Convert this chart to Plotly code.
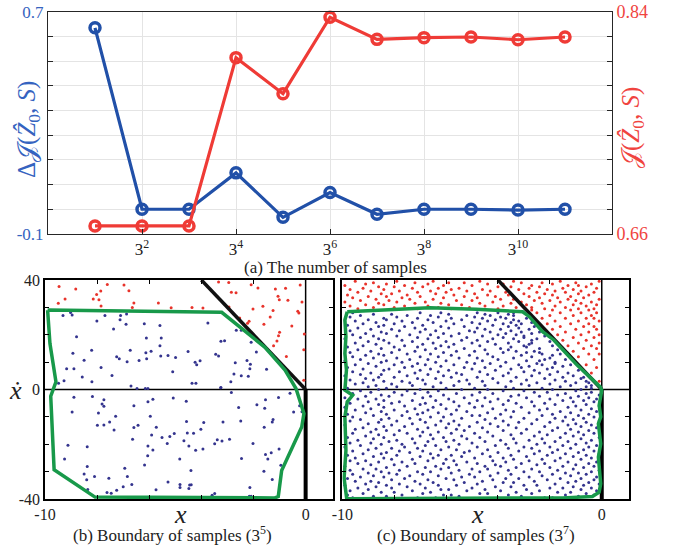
import plotly.graph_objects as go

# ---------------- Panel (a) data ----------------
samples = [3, 9, 27, 81, 243, 729, 2187, 6561, 19683, 59049, 177147]
delta_J = [0.642, -0.011, -0.011, 0.120, -0.040, 0.049, -0.029, -0.011, -0.011, -0.014, -0.011]
J_val = [0.6665, 0.6665, 0.6665, 0.8028, 0.7736, 0.8355, 0.8176, 0.8190, 0.8195, 0.8173, 0.8195]
a_tick_vals = [9, 81, 729, 6561, 59049]
a_tick_text = ["3<sup>2</sup>", "3<sup>4</sup>", "3<sup>6</sup>", "3<sup>8</sup>", "3<sup>10</sup>"]
left_ticks = [-0.1, -0.0111, 0.0778, 0.1667, 0.2556, 0.3444, 0.4333, 0.5222, 0.6111, 0.7]
left_tick_text = ["-0.1", "", "", "", "", "", "", "", "", "0.7"]
right_ticks = [0.66, 0.68, 0.70, 0.72, 0.74, 0.76, 0.78, 0.80, 0.82, 0.84]
right_tick_text = ["0.66", "", "", "", "", "", "", "", "", "0.84"]

# ---------------- Panel (b) data (3^5 samples) ----------------
b_red_x = [-9.46, -8.82, -7.61, -6.97, -7.86, -6.78, -8.02, -8.15, -7.93, -9.23, -9.49, -7.85, -6.59, -5.65, -6.65, -5.16,
           -3.34, -2.95, -2.09, -1.83, -1.16, -0.77, -0.21, -2.85, -2.67, -4.36, -3.94, -1.06, -1.01, -0.68, -0.14, -2.94,
           -2.02, -1.64, -1.25, -0.30, -0.26, -1.36, -2.53, -2.17, -2.23, -1.60, -0.53, -1.00, -1.04, -0.05, -1.10, -1.23,
           -0.07, -0.74, -0.07]
b_red_y = [37.6, 36.7, 38.4, 38.2, 36.0, 36.1, 34.7, 33.1, 32.8, 33.1, 31.5, 30.5, 31.6, 31.6, 30.0, 29.9,
           39.3, 39.1, 38.3, 37.1, 36.7, 37.0, 38.2, 35.5, 35.3, 30.0, 29.8, 34.1, 32.8, 32.6, 32.0, 30.1,
           29.4, 30.4, 28.9, 28.6, 27.9, 26.5, 26.1, 24.9, 24.2, 23.8, 23.2, 20.9, 19.6, 20.3, 17.7, 16.0,
           14.5, 12.1, 3.4]
b_blue_x = [-9.02, -9.31, -8.96, -6.87, -7.10, -7.70, -7.12, -8.01, -6.19, -5.59, -6.89, -7.37, -8.79, -6.11, -5.54,
            -5.59, -8.21, -6.73, -5.93, -6.13, -8.93, -7.25, -7.15, -5.56, -5.28, -4.99, -4.51, -8.50, -6.85, -6.39,
            -6.10, -7.85, -9.17, -8.89, -5.10, -8.57, -7.43, -9.27, -9.48, -8.20, -6.70, -6.47, -6.15, -6.05,
            -3.75, -2.66, -2.47, -3.11, -3.25, -2.09, -1.89, -3.45, -3.34, -4.05, -4.24, -4.18, -2.25, -2.70, -2.12,
            -2.14, -1.50, -2.75, -2.47, -2.20, -4.36, -4.21, -2.87, -3.25,
            -8.89, -8.18, -7.74, -7.81, -7.74, -6.59, -6.05, -5.86, -5.08, -4.58, -8.96, -7.95, -7.29, -7.52, -7.74,
            -7.99, -7.35, -6.59, -6.43, -5.96, -5.73, -4.57, -6.64, -5.91, -5.51, -5.21, -5.04, -4.54, -4.67, -5.31,
            -9.12, -8.38, -6.05, -5.86, -6.06, -9.25, -4.83, -8.38, -6.94, -6.18, -8.50, -8.10, -8.40, -7.55, -6.84,
            -6.67, -5.28, -4.82, -4.82, -4.45, -7.00, -7.25, -8.36, -7.62, -7.46, -5.74,
            -3.26, -2.85, -1.54, -1.04, -1.87, -2.57, -1.57, -0.46, -0.14, -3.91, -3.17, -2.49, -1.25, -1.28, -1.59,
            -4.02, -4.30, -2.92, -3.39, -3.21, -3.49, -4.48, -3.94, -4.22, -2.02, -1.02, -1.32, -1.54, -1.45, -2.46,
            -0.95, -4.40, -1.60, -1.28, -4.39, -4.48, -2.14, -3.59, -3.49, -2.16, -2.09, -0.60, -0.23]
b_blue_y = [28.1, 27.0, 27.2, 27.6, 27.0, 27.0, 25.5, 25.0, 24.0, 23.4, 23.8, 22.1, 19.3, 18.8, 18.8,
            16.0, 14.3, 14.3, 14.0, 13.4, 13.2, 12.0, 11.2, 12.2, 12.4, 11.7, 13.9, 10.7, 10.1, 10.6,
            11.2, 8.0, 7.6, 7.6, 6.5, 4.6, 5.1, 3.2, 2.3, 2.8, 1.3, 0.4, 0.4, 0.4,
            24.3, 21.6, 21.6, 17.8, 17.6, 17.3, 13.7, 12.9, 12.2, 10.5, 10.0, 9.0, 10.6, 9.8, 9.2,
            7.6, 7.4, 5.7, 5.0, 4.8, 2.3, 2.3, 2.8, 0.7,
            -2.8, -2.6, -3.7, -5.3, -6.1, -5.9, -4.5, -3.6, -3.1, -4.3, -8.2, -8.6, -9.8, -11.9, -13.0,
            -13.1, -14.8, -13.9, -13.1, -9.8, -13.8, -11.7, -18.2, -16.6, -17.5, -17.2, -16.1, -15.9, -18.7, -19.7,
            -20.4, -20.9, -20.6, -22.1, -24.2, -25.4, -25.4, -28.1, -28.8, -27.6, -30.9, -31.8, -33.0, -32.4, -31.8,
            -34.7, -33.8, -34.7, -35.8, -34.9, -35.5, -36.8, -36.5, -37.6, -37.9, -36.6,
            0.6, -1.1, -3.7, -2.9, -5.6, -6.6, -6.85, -8.2, -8.1, -12.1, -11.9, -11.5, -11.0, -11.9, -13.8,
            -14.5, -16.0, -18.2, -18.4, -18.8, -19.8, -20.6, -21.7, -22.2, -19.7, -21.7, -23.1, -23.7, -25.4, -25.2,
            -27.7, -29.6, -29.9, -32.9, -34.8, -36.2, -35.8, -38.6, -38.0, -39.0, -39.0, -1.4, -5.9]
b_bound_x = [-9.90, -3.22, -1.56, -0.79, -0.37, -0.15, -0.065, -0.15, -0.92, -1.05, -1.18, -8.08, -9.65, -9.78,
             -9.68, -9.58, -9.81, -9.90]
b_bound_y = [29.0, 28.2, 15.4, 7.07, 0.37, -5.75, -8.8, -13.7, -29.6, -39.1, -39.6, -39.3, -29.3, -2.45,
             0.0, 2.8, 16.8, 29.0]

# ---------------- Panel (c) data (3^7 samples; x in tenths, grouped by y row) ----------------
c_blue_row_y = [-39.5, -39, -38.5, -38, -37.5, -37, -36.5, -36, -35.5, -35, -34.5, -34, -33.5, -33, -32.5, -32,
                -31.5, -31, -30.5, -30, -29.5, -29, -28.5, -28, -27.5, -27, -26.5, -26, -25.5, -25, -24.5, -24,
                -23.5, -23, -22.5, -22, -21.5, -21, -20.5, -20, -19.5, -19, -18.5, -18, -17.5, -17, -16.5, -16,
                -15.5, -15, -14.5, -14, -13.5, -13, -12.5, -12, -11.5, -11, -10.5, -10, -9.5, -9, -8.5, -8,
                -7.5, -7, -6.5, -6, -5.5, -5, -4.5, -4, -3.5, -3, -2.5, -2, -1.5, -1, -0.5, 0,
                0.5, 1, 1.5, 2, 2.5, 3, 3.5, 4, 4.5, 5, 5.5, 6, 6.5, 7, 7.5, 8, 8.5, 9, 9.5, 10,
                10.5, 11, 11.5, 12, 12.5, 13, 13.5, 14, 14.5, 15, 15.5, 16, 16.5, 17, 17.5, 18, 18.5, 19, 19.5, 20,
                20.5, 21, 21.5, 22, 22.5, 23, 23.5, 24, 24.5, 25, 25.5, 26, 26.5, 27, 27.5, 28]
c_blue_row_x = [
    [-96, -71, -64, -40, -22, -19], [-88, -83, -55, -31, -9], [-98, -77, -61, -58, -36, -14, -3],
    [-92, -69, -47, -44, -27, -6], [-85, -80, -66, -33, -17, -12], [-97, -73, -52, -39, -24, -2],
    [-90, -62, -59, -45, -29, -8], [-94, -81, -68, -50, -20, -15, -4], [-87, -75, -41, -35, -11],
    [-99, -83, -63, -56, -30, -25, -7], [-91, -78, -70, -48, -18, -1], [-86, -65, -53, -38, -34, -13, -5],
    [-95, -89, -72, -46, -26, -10], [-81, -67, -57, -42, -21, -3], [-98, -76, -60, -37, -32, -16, -8],
    [-93, -84, -54, -49, -28, -2], [-88, -74, -63, -43, -23, -12], [-96, -79, -69, -51, -35, -19, -6],
    [-90, -82, -58, -40, -14, -9], [-85, -71, -66, -47, -30, -24, -4], [-97, -78, -55, -36, -17, -1],
    [-92, -87, -62, -50, -44, -27, -11], [-83, -68, -59, -33, -20, -7], [-99, -75, -64, -45, -39, -15, -3],
    [-89, -80, -56, -41, -25, -10], [-94, -72, -61, -48, -31, -22, -5], [-86, -77, -52, -37, -13, -2],
    [-97, -91, -67, -57, -42, -28, -18], [-81, -73, -60, -34, -23, -8], [-95, -84, -65, -49, -38, -16, -4],
    [-88, -70, -54, -43, -29, -11], [-98, -79, -63, -58, -35, -21, -6], [-92, -85, -66, -46, -26, -14, -1],
    [-83, -74, -53, -40, -19, -9], [-96, -78, -69, -51, -32, -24, -3], [-90, -62, -56, -44, -17, -7],
    [-87, -81, -71, -36, -27, -12], [-99, -76, -59, -48, -30, -20, -5], [-93, -68, -64, -41, -15, -2],
    [-85, -77, -55, -37, -25, -10], [-97, -89, -72, -50, -33, -22, -6], [-82, -67, -60, -45, -18, -13],
    [-94, -79, -57, -39, -28, -4], [-88, -73, -65, -52, -34, -23, -8], [-98, -84, -61, -47, -16, -1],
    [-91, -70, -54, -42, -26, -11], [-86, -80, -66, -35, -21, -7], [-96, -75, -58, -49, -31, -14, -3],
    [-89, -69, -63, -44, -24, -9], [-83, -78, -53, -38, -19, -5], [-95, -87, -71, -56, -29, -12],
    [-92, -67, -60, -46, -33, -17, -2], [-84, -76, -51, -40, -22, -8], [-99, -81, -64, -55, -36, -13, -4],
    [-90, -73, -59, -43, -27, -10], [-86, -68, -48, -32, -20, -6], [-97, -79, -62, -57, -38, -15, -1],
    [-93, -85, -70, -45, -25, -11], [-82, -74, -54, -41, -30, -18, -7], [-96, -66, -61, -35, -14, -3],
    [-88, -77, -50, -47, -23, -9], [-98, -83, -71, -58, -39, -19, -5], [-91, -69, -63, -44, -28, -12],
    [-85, -75, -52, -34, -16, -2], [-95, -80, -67, -56, -37, -24, -8], [-89, -72, -60, -42, -21, -4],
    [-99, -84, -65, -49, -31, -13], [-92, -76, -55, -46, -26, -10, -1], [-86, -70, -62, -38, -18, -6],
    [-97, -81, -68, -51, -33, -22], [-90, -78, -57, -43, -27, -11, -3], [-84, -73, -64, -48, -36, -15, -7],
    [-94, -87, -59, -40, -20, -2], [-99, -69, -53, -45, -29, -12, -5], [-91, -82, -66, -35, -24, -9],
    [-85, -77, -61, -50, -32, -17, -1], [-96, -72, -56, -42, -14, -6], [-89, -80, -67, -47, -26, -21, -4],
    [-93, -75, -63, -38, -30, -10], [-86, -70, -54, -44, -19, -8],
    [-98, -83, -60, -49, -34, -23, -4], [-90, -79, -65, -37, -16, -6], [-87, -73, -57, -45, -28, -12, -4],
    [-95, -81, -68, -51, -31, -20], [-92, -74, -62, -40, -25, -10, -5], [-84, -77, -55, -46, -35, -14, -6],
    [-97, -88, -69, -52, -29, -18], [-91, -71, -64, -42, -22, -8], [-86, -80, -58, -48, -33, -15, -7],
    [-99, -75, -61, -38, -27, -11], [-93, -85, -67, -54, -44, -20], [-89, -72, -56, -36, -24, -13],
    [-96, -78, -63, -47, -30, -17], [-84, -70, -59, -41, -26, -9], [-92, -82, -66, -50, -35, -21],
    [-98, -76, -53, -45, -31, -19], [-87, -73, -62, -39, -28, -15], [-95, -80, -68, -57, -32, -23, -12],
    [-90, -71, -49, -43, -25, -18], [-85, -77, -64, -52, -37, -18],
    [-99, -83, -60, -46, -29, -24], [-93, -74, -67, -40, -22, -14], [-88, -79, -55, -48, -34, -20],
    [-96, -70, -63, -42, -27], [-91, -84, -58, -51, -31, -19], [-86, -75, -66, -44, -23, -16],
    [-97, -81, -61, -38, -29, -24], [-89, -72, -56, -49, -33, -26], [-94, -78, -68, -45, -36, -17],
    [-85, -64, -53, -39, -24], [-98, -80, -71, -59, -35, -29], [-92, -76, -62, -47, -30, -19],
    [-87, -69, -57, -41, -28], [-95, -82, -65, -50, -36, -27], [-90, -73, -60, -44, -32, -20],
    [-84, -77, -54, -48, -27], [-99, -86, -67, -42, -34, -25], [-93, -71, -63, -52, -38, -30],
    [-88, -79, -58, -46, -30, -22], [-96, -74, -66, -40, -33],
    [-91, -83, -61, -55, -37, -27], [-85, -70, -49, -43, -31, -24], [-97, -78, -64, -51, -35],
    [-89, -81, -68, -45, -39, -28], [-94, -72, -59, -48, -32], [-86, -76, -62, -53, -36, -26],
    [-98, -84, -69, -42, -33], [-92, -80, -57, -47, -38, -31], [-87, -73, -65, -50, -35, -27],
    [-95, -77, -60, -44, -32], [-90, -83, -67, -54, -41, -34], [-84, -71, -58, -46, -37, -29],
    [-97, -79, -63, -49, -39], [-93, -75, -66, -52, -43, -34], [-88, -81, -59, -45, -36],
    [-96, -70, -62, -48, -40, -34]]
c_red_row_y = [3, 6, 8, 9, 11, 12, 13, 14, 15, 16, 17, 18, 19, 20, 21, 22, 23, 24, 25, 26, 27, 28, 29,
               29.5, 30, 30.5, 31, 31.5, 32, 32.5, 33, 33.5, 34, 34.5, 35, 35.5, 36, 36.5, 37, 37.5, 38, 38.5,
               39, 39.5]
c_red_row_x = [
    [-1], [-4], [-2], [-6], [-3], [-9], [-5, -1], [-11], [-7, -2], [-13, -4], [-9, -1], [-15, -6],
    [-11, -3], [-17, -8, -1], [-14, -5], [-19, -10, -2], [-16, -7, -3], [-21, -12, -5], [-18, -9, -1],
    [-23, -14, -6, -3], [-20, -11, -4], [-25, -16, -8, -2], [-27, -19, -12, -5],
    [-94, -71, -58, -40, -22, -9, -3], [-88, -80, -63, -51, -33, -27, -14], [-97, -76, -67, -45, -38, -18, -6],
    [-91, -84, -59, -54, -29, -11, -2], [-86, -72, -62, -47, -35, -23, -8], [-99, -79, -68, -42, -31, -16, -4],
    [-93, -82, -56, -50, -26, -20, -10], [-87, -74, -65, -39, -34, -13, -1], [-96, -77, -61, -48, -24, -17, -7],
    [-90, -83, -70, -53, -41, -28, -12], [-98, -75, -57, -44, -36, -19, -5], [-85, -81, -64, -49, -30, -22, -9],
    [-94, -71, -60, -37, -25, -14, -3], [-89, -78, -66, -52, -43, -18, -8], [-97, -84, -58, -46, -32, -21, -11],
    [-92, -73, -63, -55, -28, -15, -2], [-86, -80, -69, -40, -35, -24, -6], [-99, -76, -61, -50, -27, -13, -9],
    [-91, -83, -67, -44, -38, -19, -4], [-88, -72, -59, -53, -31, -23, -10], [-95, -79, -65, -47, -34, -16, -1]]
c_bound_x = [-9.81, -6.63, -4.84, -3.05, -2.79, -2.28, -1.85, -0.95, -0.06, 0.0, -0.10, -0.04, -0.13, -0.04, -0.13,
             -0.04, -0.10, -0.36, -1.51, -9.83, -9.93, -9.86, -9.90, -9.81, -9.60, -9.90, -9.84, -9.90, -9.86,
             -9.90, -9.81]
c_bound_y = [28.4, 29.9, 29.3, 28.4, 26.6, 21.1, 18.1, 8.9, 0.95, -0.25, -5.75, -10.0, -12.5, -19.8, -24.7,
             -34.4, -37.5, -39.1, -39.6, -39.9, -32.4, -22.2, -10.0, -4.5, -2.1, -0.25, 7.1, 13.2, 19.3,
             25.4, 28.4]

# limit line (x_dot = -10 x)
limit_x = [-4, 0]
limit_y = [40, 0]

# ticks for bottom panels
bx_ticks = [-10, -8, -6, -4, -2, 0]
bx_text = ["-10", "", "", "", "", "0"]
by_ticks = [-40, -30, -20, -10, 0, 10, 20, 30, 40]
by_text = ["-40", "", "", "", "0", "", "", "", "40"]
by_text_blank = [""] * 9


def flatten(rows_y, rows_x):
    xs, ys = [], []
    for yv, row in zip(rows_y, rows_x):
        for xv in row:
            xs.append(xv / 10.0)
            ys.append(yv)
    return xs, ys


c_blue_x, c_blue_y = flatten(c_blue_row_y, c_blue_row_x)
c_red_x, c_red_y = flatten(c_red_row_y, c_red_row_x)

FONT = "Liberation Serif, Times New Roman, serif"
BLUE = "#2150a8"
BLUE_TXT = "#3563c0"
RED = "#ef3b36"
RED_TXT = "#f0443f"
GREEN = "#18994a"
DOT_BLUE = "#34348e"
DOT_RED = "#e8332b"
AX = "#262626"

W, H = 673, 548


def px(x):
    return x / W


def py(y):
    return 1 - y / H


fig = go.Figure()

# ---- Panel (a)
fig.add_trace(go.Scatter(
    x=samples, y=delta_J, mode="lines+markers", xaxis="x", yaxis="y",
    line=dict(color=BLUE, width=3.2),
    marker=dict(symbol="circle-open", size=10, color=BLUE, line=dict(width=3.5)),
    showlegend=False, cliponaxis=False))
fig.add_trace(go.Scatter(
    x=samples, y=J_val, mode="lines+markers", xaxis="x", yaxis="y2",
    line=dict(color=RED, width=3.2),
    marker=dict(symbol="circle-open", size=10, color=RED, line=dict(width=3.5)),
    showlegend=False, cliponaxis=False))

# ---- Panel (b)
fig.add_trace(go.Scatter(x=b_red_x, y=b_red_y, mode="markers", xaxis="x3", yaxis="y3",
                         marker=dict(color=DOT_RED, size=3), showlegend=False))
fig.add_trace(go.Scatter(x=b_blue_x, y=b_blue_y, mode="markers", xaxis="x3", yaxis="y3",
                         marker=dict(color=DOT_BLUE, size=3), showlegend=False))
fig.add_trace(go.Scatter(x=limit_x, y=limit_y, mode="lines", xaxis="x3", yaxis="y3",
                         line=dict(color="#111111", width=3.5), showlegend=False))
fig.add_trace(go.Scatter(x=b_bound_x, y=b_bound_y, mode="lines", xaxis="x3", yaxis="y3",
                         line=dict(color=GREEN, width=3.5), showlegend=False))

# ---- Panel (c)
fig.add_trace(go.Scatter(x=c_red_x, y=c_red_y, mode="markers", xaxis="x4", yaxis="y4",
                         marker=dict(color=DOT_RED, size=3), showlegend=False))
fig.add_trace(go.Scatter(x=c_blue_x, y=c_blue_y, mode="markers", xaxis="x4", yaxis="y4",
                         marker=dict(color=DOT_BLUE, size=3), showlegend=False))
fig.add_trace(go.Scatter(x=limit_x, y=limit_y, mode="lines", xaxis="x4", yaxis="y4",
                         line=dict(color="#111111", width=3.5), showlegend=False))
fig.add_trace(go.Scatter(x=c_bound_x, y=c_bound_y, mode="lines", xaxis="x4", yaxis="y4",
                         line=dict(color=GREEN, width=3.5), showlegend=False))

tickfont = dict(family=FONT, size=16, color="#222222")

common_b = dict(ticks="inside", ticklen=4, tickcolor="black", showline=True, linecolor="black",
                linewidth=1.5, mirror="ticks", showgrid=False, zeroline=False, tickfont=tickfont,
                automargin=False)

fig.update_layout(
    width=W, height=H, margin=dict(l=0, r=0, t=0, b=0, pad=0, autoexpand=False),
    paper_bgcolor="white", plot_bgcolor="white",
    font=dict(family=FONT),
    xaxis=dict(domain=[px(48), px(612)], anchor="y", type="log", range=[0, 5.7255],
               tickvals=a_tick_vals, ticktext=a_tick_text, ticks="inside", ticklen=5, tickcolor=AX,
               showgrid=True, gridcolor="#e4e4e4", gridwidth=1, showline=True, linecolor=AX, linewidth=1,
               mirror=True, zeroline=False, automargin=False,
               tickfont=dict(family=FONT, size=17, color="#222222")),
    yaxis=dict(domain=[py(234), py(11.7)], anchor="x", range=[-0.1, 0.7],
               tickvals=left_ticks, ticktext=left_tick_text, ticks="inside", ticklen=5, tickcolor=AX,
               showgrid=True, gridcolor="#e4e4e4", gridwidth=1, showline=True, linecolor=AX, linewidth=1,
               zeroline=False, automargin=False, tickfont=dict(family=FONT, size=17, color=BLUE_TXT)),
    yaxis2=dict(overlaying="y", side="right", anchor="x", range=[0.66, 0.84],
                tickvals=right_ticks, ticktext=right_tick_text, ticks="inside", ticklen=5, tickcolor=AX,
                showgrid=False, showline=True, linecolor=AX, linewidth=1, zeroline=False, automargin=False,
                tickfont=dict(family=FONT, size=18, color=RED_TXT)),
    xaxis3=dict(domain=[px(45), px(333)], anchor="y3", range=[-10, 1.05],
                tickvals=bx_ticks, ticktext=bx_text, **common_b),
    yaxis3=dict(domain=[py(499), py(280)], anchor="x3", range=[-40, 40],
                tickvals=by_ticks, ticktext=by_text, **common_b),
    xaxis4=dict(domain=[px(342.3), px(629)], anchor="y4", range=[-10, 1.05],
                tickvals=bx_ticks, ticktext=bx_text, **common_b),
    yaxis4=dict(domain=[py(499), py(280)], anchor="x4", range=[-40, 40],
                tickvals=by_ticks, ticktext=by_text_blank, **common_b),
)

# reference lines x=0 and x_dot=0 in bottom panels
shapes = []
for xr, yr in (("x3", "y3"), ("x4", "y4")):
    shapes.append(dict(type="line", xref=f"{xr} domain", yref=yr, x0=0, x1=1, y0=0, y1=0,
                       line=dict(color="black", width=1.5), layer="below"))
    shapes.append(dict(type="line", xref=xr, yref=f"{yr} domain", x0=0, x1=0, y0=0, y1=1,
                       line=dict(color="black", width=1.5), layer="below"))
    shapes.append(dict(type="line", xref=xr, yref=yr, x0=0, x1=0, y0=-40, y1=0,
                       line=dict(color="black", width=4), layer="below"))
fig.update_layout(shapes=shapes)

ann = [
    dict(x=px(28), y=py(130), text="Δ𝒥(<i>Ẑ</i><sub>0</sub>, <i>S</i>)", textangle=-90,
         font=dict(family=FONT, size=25, color=BLUE_TXT)),
    dict(x=px(633), y=py(128), text="𝒥(<i>Ẑ</i><sub>0</sub>, <i>S</i>)", textangle=-90,
         font=dict(family=FONT, size=25, color=RED_TXT)),
    dict(x=px(335), y=py(267), text="(a) The number of samples",
         font=dict(family=FONT, size=17, color="#222222")),
    dict(x=px(15), y=py(390), text="<i>ẋ</i>", font=dict(family=FONT, size=26, color="#222222")),
    dict(x=px(180), y=py(514), text="<i>x</i>", font=dict(family=FONT, size=26, color="#222222")),
    dict(x=px(477), y=py(514), text="<i>x</i>", font=dict(family=FONT, size=26, color="#222222")),
    dict(x=px(172), y=py(534), text="(b) Boundary of samples (3<sup>5</sup>)",
         font=dict(family=FONT, size=17, color="#222222")),
    dict(x=px(476), y=py(534), text="(c) Boundary of samples (3<sup>7</sup>)",
         font=dict(family=FONT, size=17, color="#222222")),
]
for a in ann:
    a.update(xref="paper", yref="paper", showarrow=False, xanchor="center", yanchor="middle")
fig.update_layout(annotations=ann)

fig.write_html("out.html", config={"displayModeBar": False},
               post_script="document.body.style.margin='0px';")
